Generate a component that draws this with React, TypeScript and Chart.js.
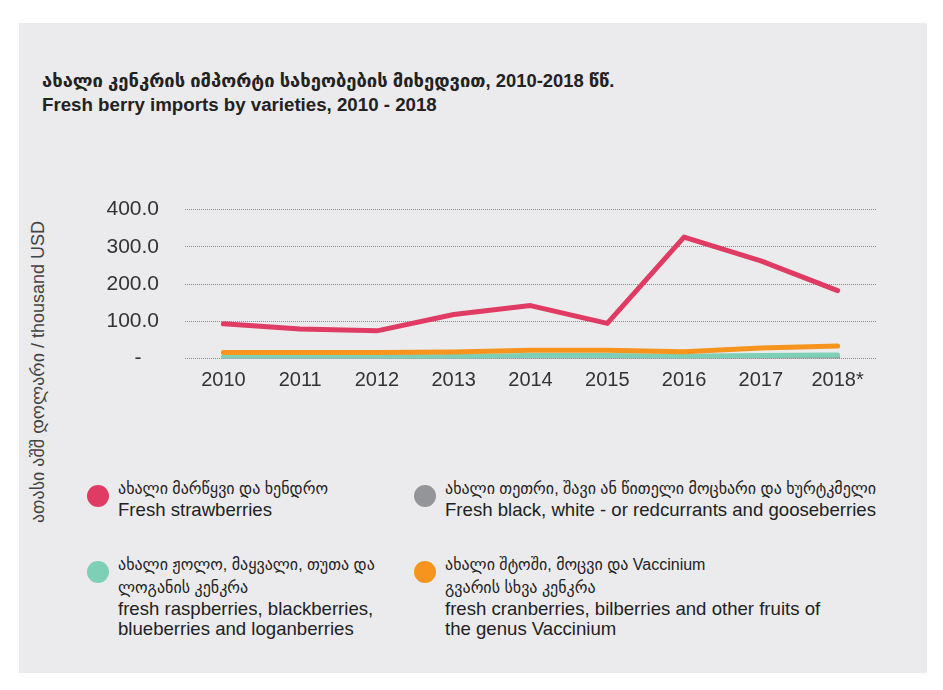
import React, { useEffect, useRef } from "react";
import { Chart, registerables } from "chart.js";

Chart.register(...registerables);

const years = ["2010", "2011", "2012", "2013", "2014", "2015", "2016", "2017", "2018*"];
const strawberries = [93, 79, 74, 118, 142, 94, 326, 262, 182];
const currants = [1, 1, 1, 1, 1, 1, 1, 1, 1];
const raspberries = [4, 4, 4, 5, 8, 8, 6, 8, 9];
const cranberries = [16, 16, 16, 17, 22, 22, 18, 28, 33];
const yTicks = [0, 100, 200, 300, 400];

const titleKa = "ახალი კენკრის იმპორტი სახეობების მიხედვით, 2010-2018 წწ.";
const titleEn = "Fresh berry imports by varieties, 2010 - 2018";
const yTitle = "ათასი აშშ დოლარი / thousand USD";

const legendItems = [
  { color: "#E03C63", ka: ["ახალი მარწყვი და ხენდრო"], en: ["Fresh strawberries"], x: 86, y: 477 },
  { color: "#939598", ka: ["ახალი თეთრი, შავი ან წითელი მოცხარი და ხურტკმელი"], en: ["Fresh black, white - or redcurrants and gooseberries"], x: 413, y: 477 },
  { color: "#7DCFB6", ka: ["ახალი ჟოლო, მაყვალი, თუთა და", "ლოგანის კენკრა"], en: ["fresh raspberries, blackberries,", "blueberries and loganberries"], x: 86, y: 553 },
  { color: "#F7941D", ka: ["ახალი შტოში, მოცვი და Vaccinium", "გვარის სხვა კენკრა"], en: ["fresh cranberries, bilberries and other fruits of", "the genus Vaccinium"], x: 413, y: 553 },
];

const FONT = "'Liberation Sans', Arial, 'DejaVu Sans', sans-serif";

export default function App() {
  const ref = useRef<HTMLCanvasElement | null>(null);

  useEffect(() => {
    if (!ref.current) return;
    const mk = (label: string, data: number[], color: string, order: number) => ({
      label,
      data,
      borderColor: color,
      backgroundColor: color,
      borderWidth: 5,
      pointRadius: 0,
      tension: 0,
      borderCapStyle: "round" as const,
      borderJoinStyle: "round" as const,
      order,
    });
    const chart = new Chart(ref.current, {
      type: "line",
      data: {
        labels: years,
        datasets: [
          mk("strawberries", strawberries, "#E03C63", 1),
          mk("cranberries", cranberries, "#F7941D", 2),
          mk("raspberries", raspberries, "#7DCFB6", 3),
          mk("currants", currants, "#939598", 4),
        ],
      },
      options: {
        animation: false,
        responsive: false,
        maintainAspectRatio: false,
        layout: { padding: { top: 14, right: 14, left: 0, bottom: 0 } },
        plugins: { legend: { display: false }, tooltip: { enabled: false } },
        scales: {
          x: {
            offset: true,
            grid: { display: false, drawTicks: false },
            border: { display: false },
            ticks: { color: "#333", font: { family: FONT, size: 20 }, padding: 10, maxRotation: 0 },
            afterFit: (s: any) => { s.height = 38; },
          },
          y: {
            min: 0,
            max: 400,
            afterBuildTicks: (s: any) => { s.ticks = yTicks.map((v) => ({ value: v })); },
            grid: { color: "#8a8a8a", lineWidth: 1, drawTicks: false },
            border: { display: false, dash: [1, 1] },
            ticks: {
              color: "#333",
              font: { family: FONT, size: 21 },
              padding: 26,
              callback: (v: any) => (Number(v) === 0 ? "-   " : Number(v).toFixed(1)),
            },
            afterFit: (s: any) => { s.width = 95; },
          },
        },
      },
    });
    return () => chart.destroy();
  }, []);

  return (
    <div style={{ position: "relative", width: 943, height: 690, background: "#fff", margin: -8, fontFamily: FONT }}>
      <div style={{ position: "absolute", left: 19, top: 23, width: 908, height: 650, background: "#EBEBED" }} />
      <div style={{ position: "absolute", left: 42, top: 69, fontSize: 18.4, fontWeight: "bold", color: "#222", whiteSpace: "nowrap", lineHeight: "24px" }}>{titleKa}</div>
      <div style={{ position: "absolute", left: 42, top: 94, fontSize: 18.7, fontWeight: "bold", color: "#222", whiteSpace: "nowrap", lineHeight: "22px" }}>{titleEn}</div>
      <div style={{ position: "absolute", left: 38, top: 372, width: 0, height: 0 }}>
        <div style={{ position: "absolute", transform: "translate(-50%, -50%) rotate(-90deg)", whiteSpace: "nowrap", fontSize: 18, color: "#444", lineHeight: "20px" }}>{yTitle}</div>
      </div>
      <canvas ref={ref} width={800} height={226} style={{ position: "absolute", left: 90, top: 171, width: 800, height: 226 }} />
      {legendItems.map((it, i) => (
        <div key={i} style={{ position: "absolute", left: it.x, top: it.y }}>
          <div style={{ position: "absolute", left: 1, top: 8, width: 22, height: 22, borderRadius: "50%", background: it.color }} />
          <div style={{ position: "absolute", left: 32, top: 0, whiteSpace: "nowrap", color: "#222" }}>
            {it.ka.map((t, j) => (
              <div key={"k" + j} style={{ fontSize: 16, lineHeight: "23px" }}>{t}</div>
            ))}
            {it.en.map((t, j) => (
              <div key={"e" + j} style={{ fontSize: 18.6, lineHeight: "20px" }}>{t}</div>
            ))}
          </div>
        </div>
      ))}
    </div>
  );
}
